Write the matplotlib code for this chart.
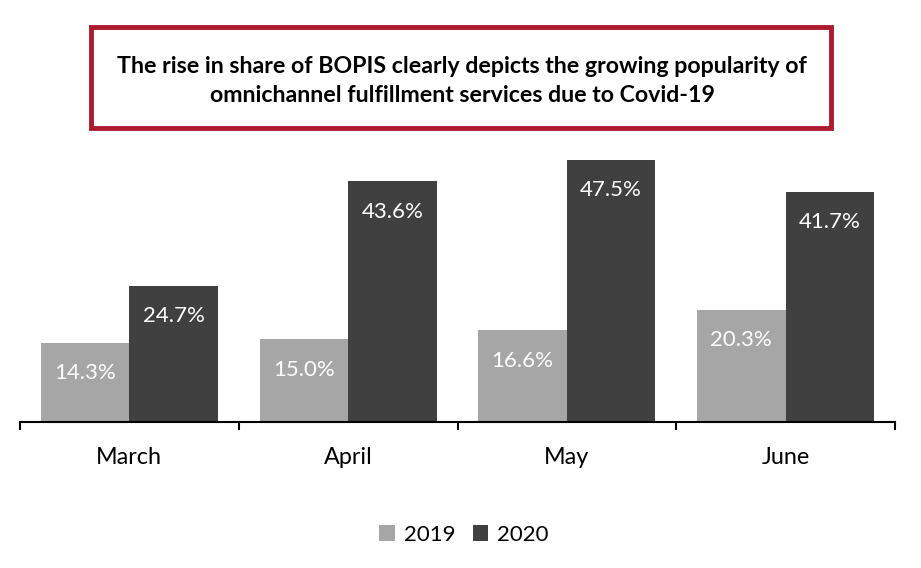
import matplotlib.pyplot as plt
import numpy as np
from matplotlib.patches import Rectangle

months = ['March', 'April', 'May', 'June']
share_2019 = [14.3, 15.0, 16.6, 20.3]
share_2020 = [24.7, 43.6, 47.5, 41.7]
title_text = ('The rise in share of BOPIS clearly depicts the growing popularity of\n'
              'omnichannel fulfillment services due to Covid-19')

plt.rcParams['font.family'] = ['Lato', 'DejaVu Sans']

W, H = 921, 568
fig = plt.figure(figsize=(W / 100, H / 100), dpi=100)
ax = fig.add_axes([20 / W, 146 / H, 875 / W, 276 / H])

x = np.arange(len(months))
bw = 0.405
b1 = ax.bar(x - bw / 2, share_2019, bw, color='#A6A6A6', label='2019')
b2 = ax.bar(x + bw / 2, share_2020, bw, color='#404040', label='2020')

for bars, vals in ((b1, share_2019), (b2, share_2020)):
    for b, v in zip(bars, vals):
        ax.text(b.get_x() + b.get_width() / 2, v - 5.5, f'{v:.1f}%',
                ha='center', va='center', color='white', fontsize=16)

ax.set_xlim(-0.5, 3.5)
ax.set_ylim(0, 50)
for s in ['top', 'right', 'left']:
    ax.spines[s].set_visible(False)
ax.spines['bottom'].set_linewidth(1.5)
ax.set_yticks([])
ax.set_xticks(x)
ax.set_xticklabels(months, fontsize=16.8)
ax.tick_params(axis='x', length=0, pad=18)
# category separator ticks
ax.set_xticks(np.arange(-0.5, 4, 1), minor=True)
ax.tick_params(axis='x', which='minor', length=6, width=1.5, direction='out')

leg = fig.legend(loc='center', bbox_to_anchor=(464 / W, 1 - 535 / H), ncol=2,
                 frameon=False, fontsize=16, handlelength=0.7, handleheight=0.7,
                 handletextpad=0.4, columnspacing=0.8)

# title box
fig.patches.append(Rectangle((91 / W, 1 - 128 / H), 740 / W, 101 / H,
                             transform=fig.transFigure, fill=False,
                             edgecolor='#AD1A30', linewidth=3.5))
fig.text(462 / W, 1 - 81 / H, title_text, ha='center', va='center',
         fontsize=16.7, fontweight='bold', linespacing=1.5)

fig.savefig('out.png', dpi=100)
